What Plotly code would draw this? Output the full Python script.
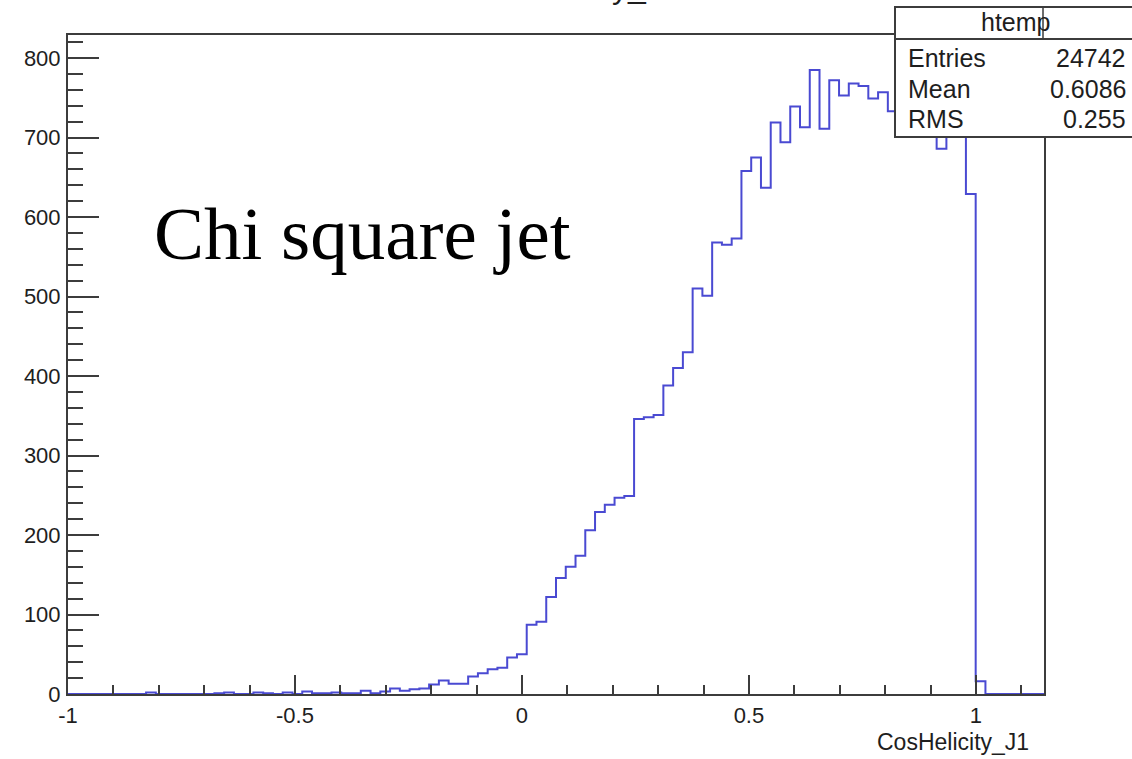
import numpy as np
import plotly.graph_objects as go

# Histogram binning of CosHelicity_J1
X_MIN, X_MAX, N_BINS = -1.0, 1.15, 100

# Bin contents, one per bin from X_MIN to X_MAX
counts = [
    0, 0, 0, 0, 0, 0, 0, 0, 2, 0,
    0, 0, 0, 0, 0, 1, 2, 0, 0, 2,
    1, 0, 2, 0, 3, 1, 1, 2, 1, 1,
    4, 1, 3, 7, 4, 6, 7, 12, 17, 13,
    13, 22, 26, 31, 33, 46, 50, 87, 91, 122,
    146, 160, 174, 206, 229, 238, 247, 249, 346, 348,
    351, 388, 410, 430, 510, 501, 568, 565, 573, 658,
    675, 637, 719, 694, 739, 713, 785, 711, 772, 753,
    768, 765, 749, 757, 733, 755, 762, 748, 736, 686,
    771, 758, 629, 16, 0, 0, 0, 0, 0, 0,
]

# Statistics box content
stats_title = "htemp"
stats_names = ["Entries", "Mean", "RMS"]
stats_values = ["24742", "0.6086", "0.255"]

# Axis ticks
y_max = 829
x_tick_vals = [-1, -0.5, 0, 0.5, 1]
x_tick_text = ["-1", "-0.5", "0", "0.5", "1"]
y_tick_vals = [0, 100, 200, 300, 400, 500, 600, 700, 800]

x_title = "CosHelicity_J1"
label_text = "Chi square jet"

W, H = 1132, 759
L, R, T, B = 68, 1044, 35, 694


def px_x(p):
    return (p - L) / (R - L)


def px_y(p):
    return (B - p) / (B - T)


edges = np.linspace(X_MIN, X_MAX, N_BINS + 1)
step_x = list(edges)
step_y = list(counts) + [counts[-1]]

sans = "Liberation Sans, Arial, Helvetica, sans-serif"
text_col = "#1e1e1e"
frame_col = "#3c3c3c"

fig = go.Figure()
fig.add_trace(go.Scatter(
    x=step_x, y=step_y, mode="lines",
    line=dict(shape="hv", color="#4a4ad2", width=2),
    hoverinfo="skip", showlegend=False,
))

fig.update_xaxes(
    range=[X_MIN, X_MAX], showgrid=False, zeroline=False,
    showline=True, mirror=True, linecolor=frame_col, linewidth=2,
    ticks="inside", ticklen=19, tickwidth=1.5, tickcolor=frame_col,
    tickmode="array", tickvals=x_tick_vals, ticktext=x_tick_text,
    tickfont=dict(family=sans, size=22, color=text_col),
    minor=dict(tickmode="array",
               tickvals=[round(v, 2) for v in np.arange(-0.9, 1.15, 0.1)],
               ticks="inside", ticklen=9, tickwidth=1.5, tickcolor=frame_col),
    ticklabelstandoff=1,
)
fig.update_yaxes(
    range=[0, y_max], showgrid=False, zeroline=False,
    showline=True, mirror=True, linecolor=frame_col, linewidth=2,
    ticks="inside", ticklen=31, tickwidth=1.5, tickcolor=frame_col,
    tickmode="array", tickvals=y_tick_vals,
    tickfont=dict(family=sans, size=22, color=text_col),
    minor=dict(tickmode="array", tickvals=list(range(20, 830, 20)),
               ticks="inside", ticklen=15, tickwidth=1.5, tickcolor=frame_col),
    ticklabelstandoff=1,
)

shapes = []
annotations = []

# Statistics box
bx0, bx1, by0, by1, bsep = 895, 1134, 7, 137, 39
shapes.append(dict(type="rect", xref="paper", yref="paper",
                   x0=px_x(bx0), x1=px_x(bx1), y0=px_y(by1), y1=px_y(by0),
                   fillcolor="white", line=dict(color=frame_col, width=2),
                   layer="above"))
shapes.append(dict(type="line", xref="paper", yref="paper",
                   x0=px_x(bx0), x1=px_x(bx1), y0=px_y(bsep), y1=px_y(bsep),
                   line=dict(color=frame_col, width=2), layer="above"))
shapes.append(dict(type="line", xref="paper", yref="paper",
                   x0=px_x(1043), x1=px_x(1043), y0=px_y(bsep), y1=px_y(by0),
                   line=dict(color=frame_col, width=1.5), layer="above"))

annotations.append(dict(text=stats_title, xref="paper", yref="paper",
                        x=px_x(1015), y=px_y(22), xanchor="center", yanchor="middle",
                        showarrow=False, font=dict(family=sans, size=25, color=text_col)))
for i, (name, val) in enumerate(zip(stats_names, stats_values)):
    yy = px_y(58 + 30.5 * i)
    annotations.append(dict(text=name, xref="paper", yref="paper",
                            x=px_x(906), y=yy, xanchor="left", yanchor="middle",
                            showarrow=False, font=dict(family=sans, size=25, color=text_col)))
    annotations.append(dict(text=val, xref="paper", yref="paper",
                            x=px_x(1128), y=yy, xanchor="right", yanchor="middle",
                            showarrow=False, font=dict(family=sans, size=25, color=text_col)))

# Axis title
annotations.append(dict(text=x_title, xref="paper", yref="paper",
                        x=px_x(1031), y=px_y(742), xanchor="right", yanchor="middle",
                        showarrow=False, font=dict(family=sans, size=23, color=text_col)))

# Histogram title, mostly above the canvas
annotations.append(dict(text=x_title, xref="paper", yref="paper",
                        x=px_x(466), y=px_y(7), xanchor="left", yanchor="bottom",
                        showarrow=False, font=dict(family=sans, size=32, color=text_col)))

# Large label inside the frame
annotations.append(dict(text=label_text, xref="paper", yref="paper",
                        x=px_x(152), y=px_y(233), xanchor="left", yanchor="middle",
                        showarrow=False,
                        font=dict(family="Liberation Serif, Times New Roman, serif",
                                  size=75, color="black")))

fig.update_layout(
    width=W, height=H,
    margin=dict(l=L, r=W - R, t=T, b=H - B, pad=0),
    paper_bgcolor="white", plot_bgcolor="white",
    shapes=shapes, annotations=annotations,
    showlegend=False,
)

fig.write_html("out.html")
